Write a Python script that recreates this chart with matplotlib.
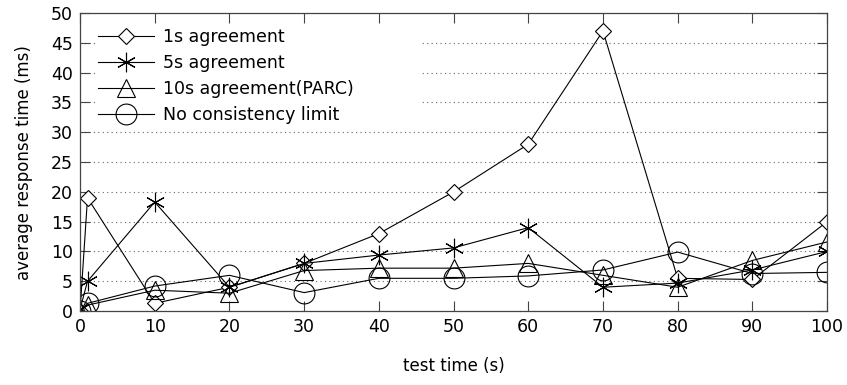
import matplotlib
matplotlib.use("Agg")
import matplotlib.pyplot as plt

# test time (s)
test_time = [0, 1, 10, 20, 30, 40, 50, 60, 70, 80, 90, 100]

# average response time (ms) per consistency setting
agree_1s = [0, 19, 1.3, 4, 8, 13, 20, 28, 47, 5.5, 5.3, 15]
agree_5s = [0.3, 5, 18.3, 4, 8, 9.4, 10.6, 14, 4, 4.7, 6.9, 10]
agree_10s = [0, 1, 3.5, 3, 6.8, 7.2, 7.2, 8, 6, 4, 8.5, 11.6]
no_limit = [0, 1.3, 4.2, 6, 3.1, 5.5, 5.5, 5.9, 6.9, 9.9, 6.3, 6.5]

labels = ["1s agreement", "5s agreement", "10s agreement(PARC)", "No consistency limit"]

plt.rcParams['font.family'] = ['DejaVu Sans']

fig = plt.figure(figsize=(8.47, 3.85), dpi=100)
ax = fig.add_axes([0.0945, 0.192, 0.882, 0.774])

lw = 0.8
ax.plot(test_time, agree_1s, color='black', lw=lw, marker='D', ms=8.5,
        mfc='white', mec='black', mew=0.8, label=labels[0])
ax.plot(test_time, agree_5s, color='black', lw=lw, marker=(6, 2, 0), ms=14,
        mec='black', mew=0.8, label=labels[1])
ax.plot(test_time, agree_10s, color='black', lw=lw, marker='^', ms=13,
        mfc='none', mec='black', mew=0.8, label=labels[2])
ax.plot(test_time, no_limit, color='black', lw=lw, marker='o', ms=15,
        mfc='none', mec='black', mew=0.8, label=labels[3])

ax.set_xlim(0, 100)
ax.set_ylim(0, 50)
ax.set_xticks(range(0, 101, 10))
ax.set_yticks(range(0, 51, 5))
ax.tick_params(direction='in', length=7, width=0.8, top=True, right=True,
               labelsize=12.5, colors='#444444', labelcolor='black', pad=5)
ax.yaxis.grid(True, linestyle=(0, (1, 3)), color='#666666', lw=0.8)
ax.set_axisbelow(True)
for s in ax.spines.values():
    s.set_color('#444444')
    s.set_linewidth(0.9)

ax.set_xlabel('test time (s)', fontsize=12, labelpad=15)
ax.set_ylabel('average response time (ms)', fontsize=12, labelpad=13)

leg = ax.legend(loc='upper left', bbox_to_anchor=(0.02, 0.62, 0.435, 0.34),
                mode='expand', frameon=True, fontsize=12.5, handlelength=3.2,
                handletextpad=0.5, borderpad=0.2, labelspacing=0.45,
                borderaxespad=0)
leg.get_frame().set_facecolor('white')
leg.get_frame().set_edgecolor('none')
leg.get_frame().set_alpha(1)

fig.savefig('out.png', dpi=100)
